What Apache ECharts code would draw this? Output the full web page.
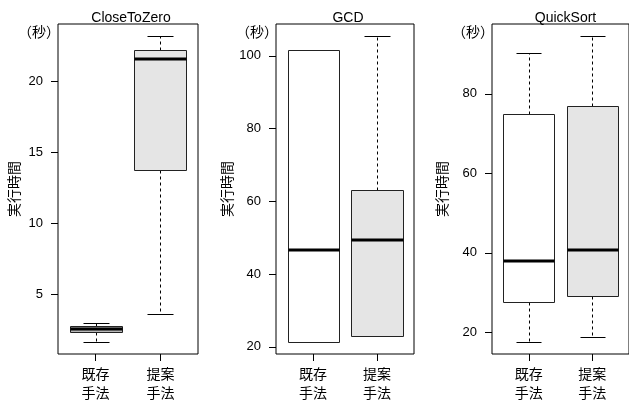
<!DOCTYPE html>
<html>
<head>
<meta charset="utf-8">
<script src="https://cdn.jsdelivr.net/npm/echarts@6/dist/echarts.min.js"></script>
<style>
  html, body { margin: 0; padding: 0; background: #fff; }
  #chart { width: 629px; height: 405px; }
</style>
</head>
<body>
<div id="chart"></div>
<script>
// 各手法の実行時間 (秒): [下ひげ, 第1四分位, 中央値, 第3四分位, 上ひげ]
const methods = ['既存\n手法', '提案\n手法'];
const panelTitles = ['CloseToZero', 'GCD', 'QuickSort'];

const closeToZeroStats = [
  [1.67, 2.35, 2.55, 2.80, 3.00],
  [3.64, 13.8, 21.57, 22.2, 23.2]
];
const gcdStats = [
  [21.4, 21.46, 46.7, 101.65, 101.7],
  [23.0, 23.0, 49.5, 63.2, 105.4]
];
const quickSortStats = [
  [17.6, 27.6, 38.0, 75.05, 90.4],
  [18.8, 29.0, 40.6, 76.9, 94.5]
];

const closeToZeroTicks = [5, 10, 15, 20];
const gcdTicks = [20, 40, 60, 80, 100];
const quickSortTicks = [20, 40, 60, 80];

const FONT = "'Liberation Sans', 'Noto Sans CJK JP', sans-serif";
const fills = ['#ffffff', '#e5e5e5'];

const panels = [
  { stats: closeToZeroStats, ticks: closeToZeroTicks, left: 58, width: 140, nameGap: 36 },
  { stats: gcdStats, ticks: gcdTicks, left: 276, width: 138, nameGap: 41 },
  { stats: quickSortStats, ticks: quickSortTicks, left: 492, width: 141, nameGap: 42 }
];

// R風の範囲: データ範囲を4%ずつ広げる
function padRange(stats) {
  const all = stats.flat();
  const lo = Math.min(...all), hi = Math.max(...all);
  const pad = (hi - lo) * 0.04;
  return [lo - pad, hi + pad];
}

const px = v => Math.round(v) + 0.5;

function renderBox(params, api) {
  const x = api.value(0);
  const lo = api.value(1), q1 = api.value(2), med = api.value(3), q3 = api.value(4), hi = api.value(5);
  const cx = px(api.coord([x, 0])[0]);
  const bl = px(api.coord([x - 0.4, 0])[0]);
  const br = px(api.coord([x + 0.4, 0])[0]);
  const sl = px(api.coord([x - 0.2, 0])[0]);
  const sr = px(api.coord([x + 0.2, 0])[0]);
  const y = v => px(api.coord([x, v])[1]);
  const ym = Math.round(api.coord([x, med])[1]);
  let fill = fills[params.dataIndex];
  if (params.seriesIndex === 0 && params.dataIndex === 0) fill = '#b8b8b8';
  const dash = { stroke: '#000', lineWidth: 1, lineDash: [3, 3] };
  const solid = { stroke: '#000', lineWidth: 1 };
  return {
    type: 'group',
    children: [
      { type: 'line', shape: { x1: cx, y1: y(q3), x2: cx, y2: y(hi) }, style: dash },
      { type: 'line', shape: { x1: cx, y1: y(q1), x2: cx, y2: y(lo) }, style: dash },
      { type: 'line', shape: { x1: sl, y1: y(hi), x2: sr, y2: y(hi) }, style: solid },
      { type: 'line', shape: { x1: sl, y1: y(lo), x2: sr, y2: y(lo) }, style: solid },
      { type: 'rect', shape: { x: bl, y: y(q3), width: br - bl, height: y(q1) - y(q3) },
        style: { fill: fill, stroke: '#222', lineWidth: 1 } },
      { type: 'line', shape: { x1: bl, y1: ym, x2: br, y2: ym },
        style: { stroke: '#000', lineWidth: 3 } }
    ]
  };
}

const option = {
  animation: false,
  backgroundColor: '#fff',
  textStyle: { fontFamily: FONT },
  title: panels.map((p, i) => ({
    text: panelTitles[i],
    left: p.left + p.width / 2 - 2,
    top: 6,
    textAlign: 'center',
    textStyle: { fontFamily: FONT, fontSize: 14, fontWeight: 'normal', color: '#000' }
  })),
  grid: panels.map(p => ({
    left: p.left, top: 24, width: p.width, height: 330,
    show: true, borderColor: '#000', borderWidth: 1, backgroundColor: 'transparent'
  })),
  xAxis: panels.map((p, i) => ({
    type: 'value', gridIndex: i, min: 0.42, max: 2.58,
    axisLine: { show: false },
    splitLine: { show: false },
    axisTick: { show: true, customValues: [1, 2], length: 7, lineStyle: { color: '#000' } },
    axisLabel: {
      customValues: [1, 2],
      formatter: v => methods[Math.round(v) - 1],
      fontFamily: FONT, fontSize: 14, lineHeight: 19, color: '#000', margin: 12
    }
  })),
  yAxis: panels.map((p, i) => {
    const [mn, mx] = padRange(p.stats);
    return {
      type: 'value', gridIndex: i, min: mn, max: mx,
      name: '実行時間', nameLocation: 'middle', nameGap: p.nameGap,
      nameTextStyle: { fontFamily: FONT, fontSize: 14, color: '#000' },
      axisLine: { show: false },
      splitLine: { show: false },
      axisTick: { show: true, customValues: p.ticks, length: 7, lineStyle: { color: '#000' } },
      axisLabel: { customValues: p.ticks, fontFamily: FONT, fontSize: 13, color: '#000', margin: 15 }
    };
  }),
  graphic: panels.map(p => ({
    type: 'text', left: p.left - 40, top: 26,
    style: { text: '（秒）', font: '14px ' + FONT, fill: '#000' }
  })),
  series: panels.map((p, i) => ({
    type: 'custom', xAxisIndex: i, yAxisIndex: i,
    renderItem: renderBox,
    encode: { x: 0, y: [1, 2, 3, 4, 5] },
    data: p.stats.map((s, j) => [j + 1, ...s])
  }))
};

const chart = echarts.init(document.getElementById('chart'), null, { renderer: 'canvas' });
chart.setOption(option);
</script>
</body>
</html>
